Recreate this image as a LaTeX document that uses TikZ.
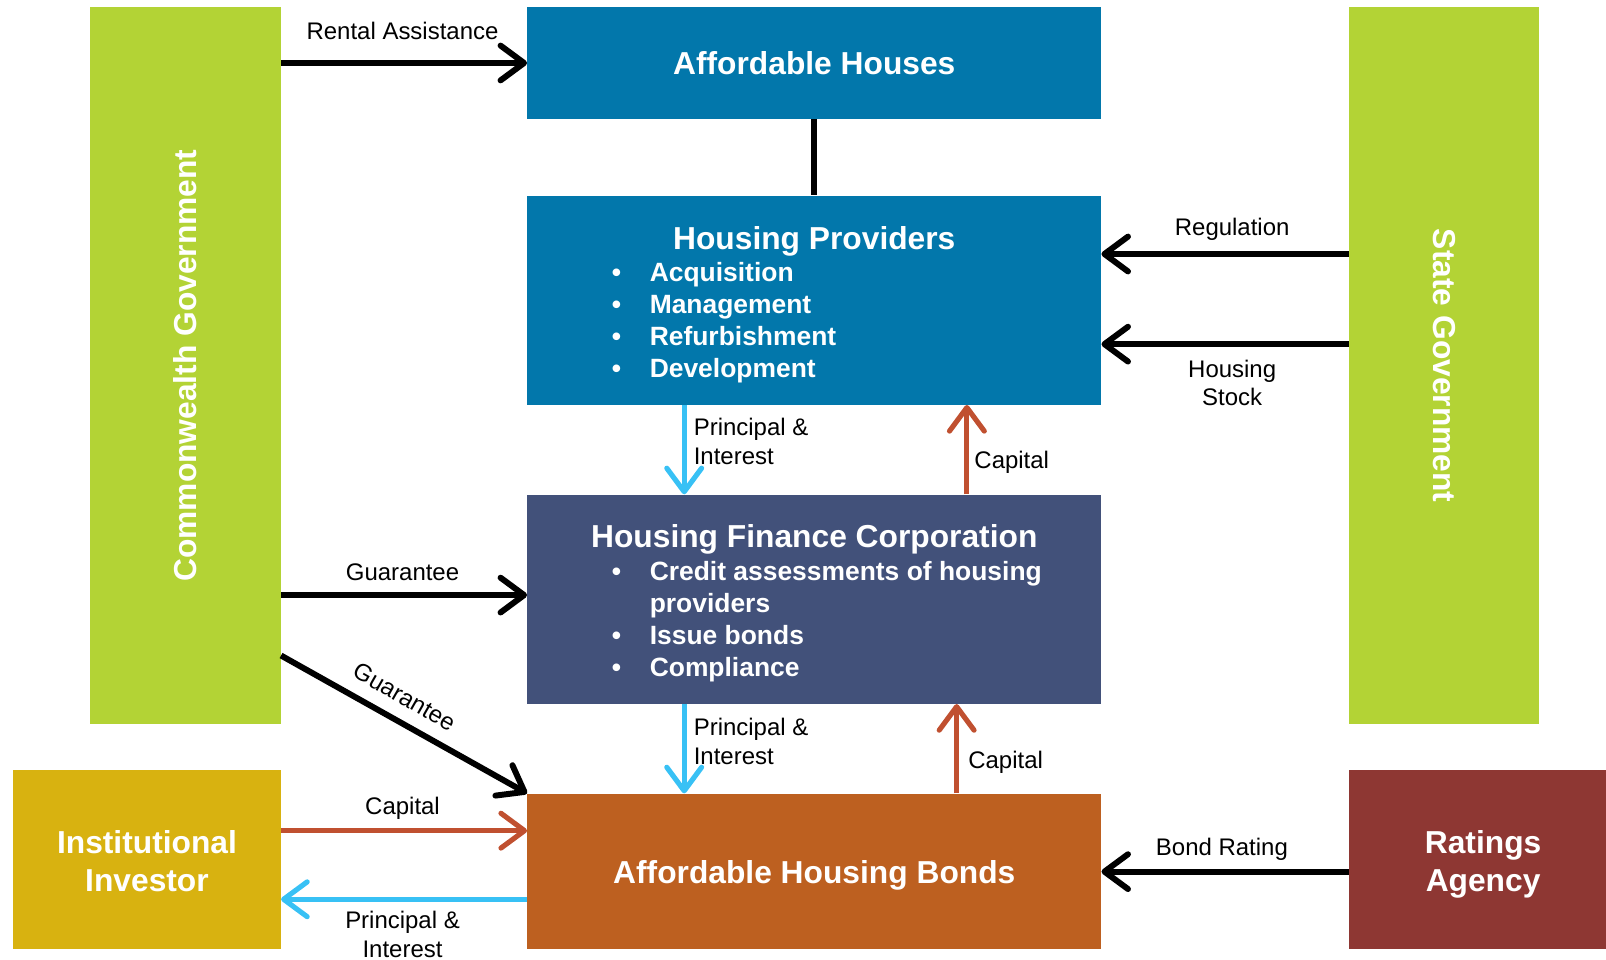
\documentclass[tikz,border=0pt]{standalone}
\usepackage{fontspec}
\usepackage{graphicx}
\setmainfont{Liberation Sans}
\usetikzlibrary{arrows.meta,calc}

\definecolor{govgreen}{RGB}{179,211,53}
\definecolor{provblue}{RGB}{2,119,171}
\definecolor{hfcnavy}{RGB}{66,81,122}
\definecolor{bondorange}{RGB}{189,96,32}
\definecolor{investgold}{RGB}{216,178,16}
\definecolor{ratingred}{RGB}{142,55,51}
\definecolor{flowred}{RGB}{192,80,48}
\definecolor{flowblue}{RGB}{56,193,245}

% bullet followed by the indent of the item text
\newcommand\itemdot{\makebox[18.5pt][l]{•}}
% two centred lines, set a little below the middle of their box
\newcommand\twolines[2]{\raisebox{-2.5pt}[\height][\depth]{\begin{tabular}{@{}c@{}}#1\\#2\end{tabular}}}

\begin{document}
\begin{tikzpicture}[x=0.5pt,y=-0.5pt,
  blk/.style={rectangle, inner sep=0pt, draw=none, text=white,
    font=\fontsize{15.5}{18.5}\selectfont\bfseries},
  oneline/.style={text height=11.1pt, text depth=0pt},
  ttl/.style={inner sep=0pt, text=white, font=\fontsize{15.5}{18.5}\selectfont\bfseries},
  lst/.style={inner sep=0pt, text=white, font=\fontsize{12.9}{15.65}\selectfont\bfseries},
  lbl/.style={inner sep=0pt, text=black, font=\fontsize{11.7}{14}\selectfont},
  lbl1/.style={lbl, text height=8.4pt, text depth=0pt},
  tipk/.style={-{Straight Barb[length=11.5pt,width=17pt,round]}},
  flowk/.style={draw=black, line width=2.9pt, tipk},
  flowr/.style={draw=flowred, line width=2.5pt, tipk},
  flowb/.style={draw=flowblue, line width=2.5pt, tipk},
  link/.style={draw=black, line width=2.9pt}]

\useasboundingbox (0,0) rectangle (1568,937);

% boxes
\node[blk, fill=govgreen, minimum width=93pt, minimum height=350pt] (cg) at (181,357)
  {\rotatebox{90}{Commonwealth Government}};
\node[blk, oneline, fill=provblue, minimum width=280pt, minimum height=54.5pt] (ah) at (795,61.5)
  {Affordable Houses};
\node[blk, fill=provblue, minimum width=280pt, minimum height=102pt] (hp) at (795,293) {};
\node[blk, fill=hfcnavy, minimum width=280pt, minimum height=102pt] (hfc) at (795,585) {};
\node[blk, oneline, fill=bondorange, minimum width=280pt, minimum height=76pt] (ahb) at (795,851)
  {Affordable Housing Bonds};
\node[blk, fill=govgreen, minimum width=93pt, minimum height=350pt] (sg) at (1410,357)
  {\rotatebox{-90}{State Government}};
\node[blk, fill=investgold, minimum width=130.5pt, minimum height=87.5pt] (ii)
  at (143.5,839.5) {\twolines{Institutional}{Investor}};
\node[blk, fill=ratingred, minimum width=131pt, minimum height=87.5pt] (ra)
  at (1448,839.5) {\twolines{Ratings}{Agency}};

% box contents
\node[ttl, anchor=base] (hpT) at (795,244) {Housing Providers};
\node[lst, anchor=base west] (hpL) at (597,275) {\begin{tabular}[t]{@{}l@{}}
  \itemdot Acquisition\\ \itemdot Management\\ \itemdot Refurbishment\\ \itemdot Development
  \end{tabular}};
\node[ttl, anchor=base] (hfcT) at (795,535) {Housing Finance Corporation};
\node[lst, anchor=base west] (hfcL) at (597,567) {\begin{tabular}[t]{@{}l@{}}
  \itemdot Credit assessments of housing\\ \hspace{18.5pt}providers\\
  \itemdot Issue bonds\\ \itemdot Compliance
  \end{tabular}};

% reference levels for the connectors
\coordinate (yReg) at (0,248);
\coordinate (yStock) at (0,336);
\coordinate (yGuar) at (0,581);
\coordinate (yDiag) at (0,640);
\coordinate (yCap) at (0,811);
\coordinate (yPI) at (0,878);
\coordinate (xPI) at (668,0);
\coordinate (xCapA) at (944,0);
\coordinate (xCapB) at (934,0);

% connectors
\draw[flowk] (cg.east |- ah.west) -- (ah.west);
\draw[link] (ah.south) -- (hp.north);
\draw[flowk] (sg.west |- yReg) -- (hp.east |- yReg);
\draw[flowk] (sg.west |- yStock) -- (hp.east |- yStock);
\draw[flowb] (hp.south -| xPI) -- (hfc.north -| xPI);
\draw[flowr] (hfc.north -| xCapA) -- (hp.south -| xCapA);
\draw[flowk] (cg.east |- yGuar) -- (hfc.west |- yGuar);
\draw[flowk] (cg.east |- yDiag) -- (ahb.north west);
\draw[flowb] (hfc.south -| xPI) -- (ahb.north -| xPI);
\draw[flowr] (ahb.north -| xCapB) -- (hfc.south -| xCapB);
\draw[flowr] (ii.east |- yCap) -- (ahb.west |- yCap);
\draw[flowb] (ahb.west |- yPI) -- (ii.east |- yPI);
\draw[flowk] (ra.west |- ahb.east) -- (ahb.east);

% connector labels
\node[lbl1] (tRent) at (393,30) {Rental Assistance};
\node[lbl1] (tReg) at (1203,222) {Regulation};
\node[lbl, align=center] (tStock) at (1203,374) {Housing\\Stock};
\node[lbl, align=left, anchor=west] (tPIa) at (677,431) {Principal \&\\Interest};
\node[lbl1, anchor=west] (tCapA) at (951,449) {Capital};
\node[lbl1] (tGuar) at (393,558) {Guarantee};
\node[lbl1, rotate=-29.8] (tGuarB) at (395,680) {Guarantee};
\node[lbl, align=left, anchor=west] (tPIb) at (677,724) {Principal \&\\Interest};
\node[lbl1, anchor=west] (tCapB) at (945,742) {Capital};
\node[lbl1] (tCapC) at (393,787) {Capital};
\node[lbl, align=center] (tPIc) at (393,912) {Principal \&\\Interest};
\node[lbl1] (tBond) at (1193,827) {Bond Rating};

\end{tikzpicture}
\end{document}
